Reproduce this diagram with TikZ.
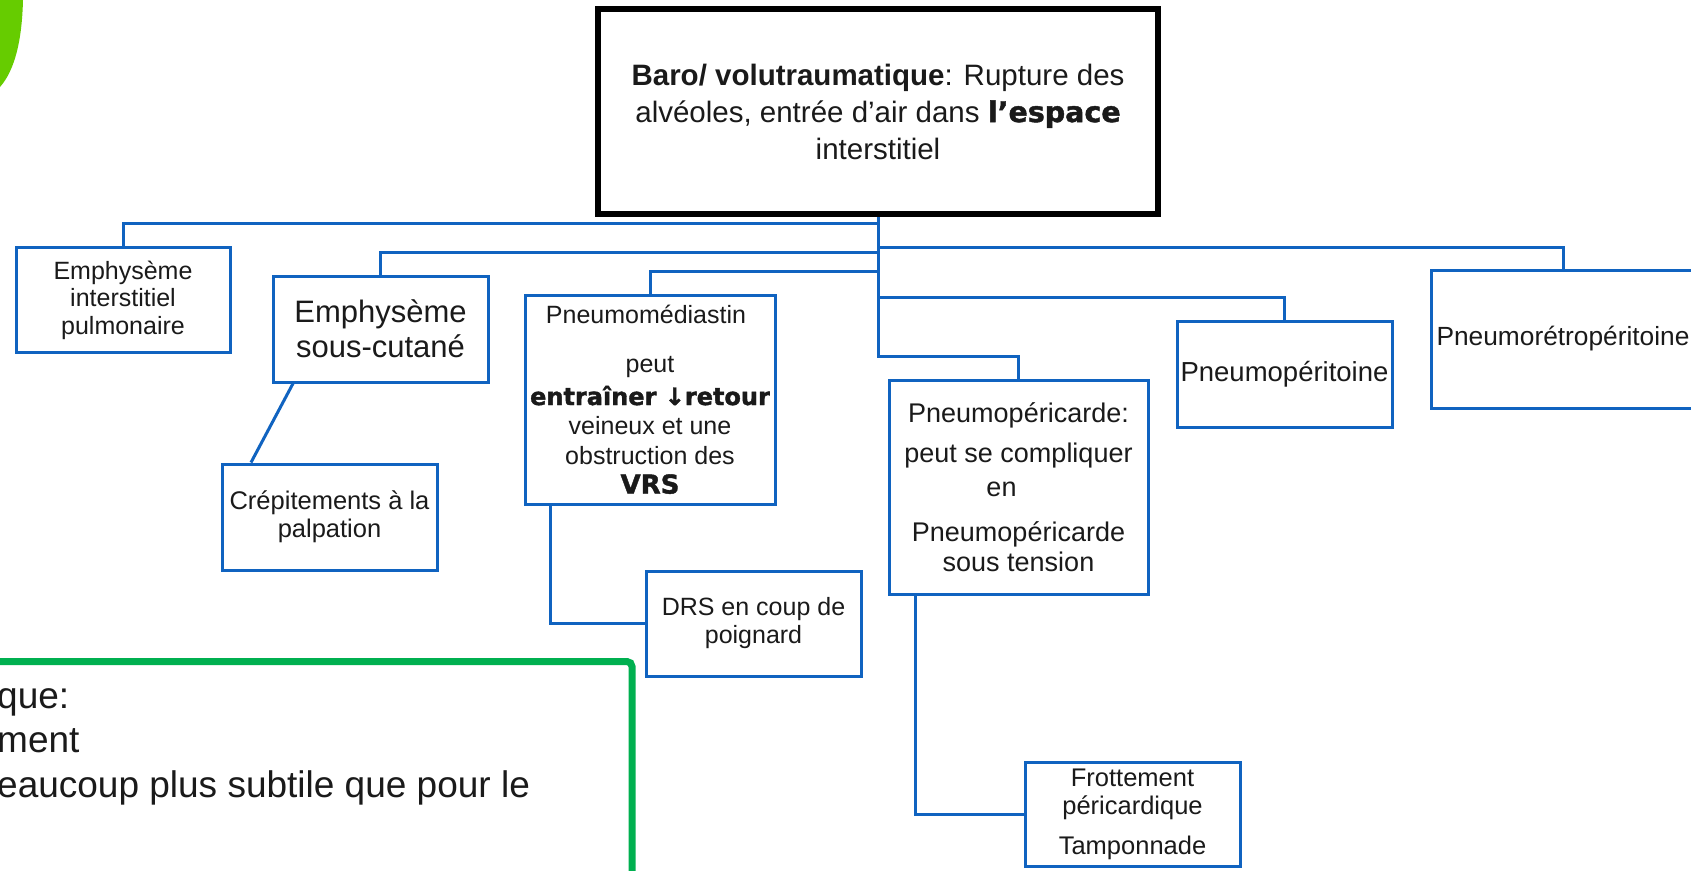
\documentclass[tikz,border=0pt]{standalone}
\usepackage{fontspec}
\setmainfont{Liberation Sans}
\newfontfamily\heavy{DejaVu Sans}[BoldFeatures={FakeBold=1.5}]
\definecolor{lineblue}{RGB}{16,99,192}
\definecolor{boxgreen}{RGB}{0,176,80}
\definecolor{limegreen}{RGB}{102,204,0}
\definecolor{txt}{RGB}{26,26,26}
\tikzset{
  conn/.style={draw=lineblue, line width=3pt},
  bbox/.style={draw=lineblue, line width=3pt, rectangle, inner sep=0pt, align=center, fill=white, text=txt},
  gtext/.style={anchor=base west, inner sep=0pt, text=txt, font=\fontsize{37}{40}\selectfont},
}
\begin{document}
\begin{tikzpicture}[x=1pt,y=-1pt]
\useasboundingbox (0,0) rectangle (1691,870);
\clip (0,0) rectangle (1691,870);
\fill[white] (0,0) rectangle (1691,870);
% lime blob top-left
\fill[limegreen] (0,0) -- (23,0) .. controls (22,40) and (15,70) .. (0,87) -- cycle;

% title box
\node[draw=black, line width=6pt, rectangle, minimum width=560pt, minimum height=205pt, align=center, inner sep=0pt, text=txt,
      font=\fontsize{29.5}{37}\selectfont] (top) at (878,111.5)
  {\textbf{Baro/ volutraumatique}: Rupture des\\alvéoles, entrée d’air dans {\heavy\bfseries\fontsize{28.5}{37}\selectfont l’espace}\\interstitiel};

% children
\node[bbox, minimum width=214pt, minimum height=105pt, font=\fontsize{25}{27.5}\selectfont] (b1) at (123,300)
  {Emphysème\\interstitiel\\pulmonaire};
\node[bbox, minimum width=215pt, minimum height=106pt, font=\fontsize{31}{35}\selectfont] (b2) at (380.5,329)
  {Emphysème\\sous-cutané};
\node[bbox, minimum width=250pt, minimum height=209pt, font=\fontsize{25}{29.5}\selectfont] (b3) at (650,399.5)
  {Pneumomédiastin\rule{8pt}{0pt}\\[19.5pt]peut\\[3pt]{\heavy\bfseries\fontsize{24}{29.5}\selectfont entraîner ↓retour}\\veineux et une\\obstruction des\\{\heavy\bfseries\fontsize{26}{29.5}\selectfont VRS}};
\node[bbox, minimum width=259pt, minimum height=214pt, font=\fontsize{27}{30}\selectfont] (b5) at (1018.5,487)
  {Pneumopéricarde:\\[10pt]peut se compliquer\\[4pt]en\rule{34pt}{0pt}\\[15pt]Pneumopéricarde\\sous tension};
\node[bbox, minimum width=215pt, minimum height=106pt, font=\fontsize{27.5}{30}\selectfont] (b6) at (1284.5,374)
  {Pneumopéritoine};
\node[bbox, minimum width=263pt, minimum height=138pt, font=\fontsize{26.3}{30}\selectfont] (b7) at (1563,339)
  {Pneumorétropéritoine};

% grandchildren
\node[bbox, minimum width=215pt, minimum height=106pt, font=\fontsize{25.5}{28}\selectfont] (crep) at (329.5,517)
  {Crépitements à la\\palpation};
\node[bbox, minimum width=215pt, minimum height=105pt, font=\fontsize{25}{28}\selectfont] (drs) at (753.5,623.5)
  {DRS en coup de\\poignard};
\node[bbox, minimum width=215pt, minimum height=104pt, font=\fontsize{25.5}{28}\selectfont] (frot) at (1132.5,814.5)
  {Frottement\\péricardique\\[12pt]Tamponnade};

% trunk junctions
\coordinate (j1) at (878,223);
\coordinate (j2) at (878,252);
\coordinate (j3) at (878,271);
\coordinate (j4) at (878,247);
\coordinate (j5) at (878,297);
\coordinate (j6) at (878,356);

\draw[conn] (top.south) -- (j6) -| (b5.north);
\draw[conn] (j1) -| (b1.north);
\draw[conn] (j2) -| (b2.north);
\draw[conn] (j3) -| (b3.north);
\draw[conn] (j4) -| (b7.north);
\draw[conn] (j5) -| (b6.north);

\draw[conn] ([xshift=-87.5pt]b2.south) -- ([xshift=-78.5pt]crep.north);
\draw[conn] ([xshift=-100pt]b3.south) |- (drs.west);
\draw[conn] ([xshift=-103.5pt]b5.south) |- (frot.west);

% green box (partly off-canvas)
\coordinate (gstart) at (-10,661.5);
\coordinate (gend) at (632,880);
\draw[draw=boxgreen, line width=7pt, rounded corners=5pt] (gstart) -| (gend);
\node[gtext] (g1) at (-3,708) {que:};
\node[gtext] (g2) at (-3,752) {ment};
\node[gtext] (g3) at (-3,797) {eaucoup plus subtile que pour le};
\end{tikzpicture}
\end{document}
